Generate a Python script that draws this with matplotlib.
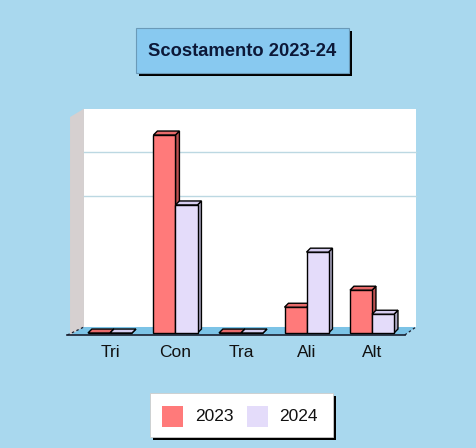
import matplotlib
matplotlib.use("Agg")
import matplotlib.pyplot as plt
from matplotlib.patches import Polygon, Rectangle

categories = ["Tri", "Con", "Tra", "Ali", "Alt"]
values_2023 = [0.0, 4.53, 0.0, 0.59, 0.98]
values_2024 = [0.0, 2.93, 0.0, 1.85, 0.43]
series_names = ["2023", "2024"]
grid_levels = [3, 4]

bg = "#a9d8ee"
front = ["#ff7a7a", "#e4dcfa"]
side = ["#bb5050", "#aeaac4"]
top = ["#e86a6a", "#d6cdf0"]

fig = plt.figure(figsize=(4.77, 4.48), dpi=100)
fig.patch.set_facecolor(bg)

# px -> fraction helpers for the figure-level boxes
W, H = 477, 448
def fx(px):
    return px / W
def fy(py):
    return 1 - py / H

ax = fig.add_axes([fx(60), fy(345), fx(430) - fx(60), fy(100) - fy(345)])
ax.set_xlim(-0.763, 4.885)
ax.set_ylim(-0.275, 5.33)
ax.set_facecolor(bg)
for s in ax.spines.values():
    s.set_visible(False)
ax.set_yticks([])

# wall / floor geometry (depth goes up and to the right)
wx0, wx1 = -0.397, 4.67
fx0, fx1 = -0.61, 4.50
wy0, fy0 = 0.137, -0.046
wtop = 5.13

ax.add_patch(Polygon([(wx0, wy0), (wx1, wy0), (wx1, wtop), (wx0, wtop)],
                     closed=True, facecolor="white", edgecolor="none", zorder=1))
ax.add_patch(Polygon([(fx0, fy0), (wx0, wy0), (wx0, wtop), (fx0, wtop - 0.19)],
                     closed=True, facecolor="#d6d0d0", edgecolor="none", zorder=1))
ax.add_patch(Polygon([(fx0, fy0), (fx1, fy0), (wx1, wy0), (wx0, wy0)],
                     closed=True, facecolor="#7cc3e6", edgecolor="none", zorder=2))
ax.plot([fx0 - 0.04, fx1], [fy0, fy0], color="#1a2030", lw=1.2, zorder=3)
ax.plot([fx0 - 0.04, wx0], [fy0, wy0], color="#1a2030", lw=0.9, ls=(0, (2, 2)), zorder=3)
ax.plot([fx1, wx1], [fy0, wy0], color="#1a2030", lw=0.9, ls=(0, (2, 2)), zorder=3)
for g in grid_levels:
    ax.plot([wx0, wx1], [g + wy0, g + wy0], color="#bcd8e2", lw=1.0, zorder=1.5)

# bars with a little 3D depth
bw = 0.336
ddx, ddy = 0.06, 0.09
xs = list(range(len(categories)))
for k, vals in enumerate([values_2023, values_2024]):
    lefts = [x - bw + k * bw for x in xs]
    ax.bar(lefts, vals, width=bw, align="edge", color=front[k],
           edgecolor="black", linewidth=1.0, zorder=5)
    for l, v in zip(lefts, vals):
        r = l + bw
        ax.add_patch(Polygon([(l, v), (r, v), (r + ddx, v + ddy), (l + ddx, v + ddy)],
                             closed=True, facecolor=top[k], edgecolor="black",
                             linewidth=1.0, zorder=5))
        ax.add_patch(Polygon([(r, 0), (r + ddx, ddy), (r + ddx, v + ddy), (r, v)],
                             closed=True, facecolor=side[k], edgecolor="black",
                             linewidth=1.0, zorder=4.9))

ax.set_xticks(xs)
ax.set_xticklabels(categories, fontsize=12.5, family="Liberation Sans", color="#111111")
ax.tick_params(axis="x", length=0, pad=0)

# title box with drop shadow
fig.patches.append(Rectangle((fx(139), fy(76)), fx(349) - fx(136), fy(28) - fy(73),
                             transform=fig.transFigure, facecolor="black", edgecolor="none"))
fig.patches.append(Rectangle((fx(136), fy(73)), fx(349) - fx(136), fy(28) - fy(73),
                             transform=fig.transFigure, facecolor="#88c9f0",
                             edgecolor="#6a9ab8", linewidth=0.8))
fig.text(fx(242.5), fy(51), "Scostamento 2023-24", ha="center", va="center",
         fontsize=13.2, fontweight="bold", family="Liberation Sans", color="#0c1838")

# legend box
fig.patches.append(Rectangle((fx(153), fy(440)), fx(333) - fx(150), fy(393) - fy(437),
                             transform=fig.transFigure, facecolor="black", edgecolor="none"))
fig.patches.append(Rectangle((fx(150), fy(437)), fx(333) - fx(150), fy(393) - fy(437),
                             transform=fig.transFigure, facecolor="white",
                             edgecolor="#cccccc", linewidth=0.6))
sw_x = [162, 247]
tx_x = [195, 279]
for k, name in enumerate(series_names):
    fig.patches.append(Rectangle((fx(sw_x[k]), fy(427)), fx(21), fy(406) - fy(427),
                                 transform=fig.transFigure, facecolor=front[k],
                                 edgecolor="none"))
    fig.text(fx(tx_x[k]), fy(416), name, ha="left", va="center",
             fontsize=12.5, family="Liberation Sans", color="#111111")

fig.savefig("out.png", dpi=100, facecolor=bg)
